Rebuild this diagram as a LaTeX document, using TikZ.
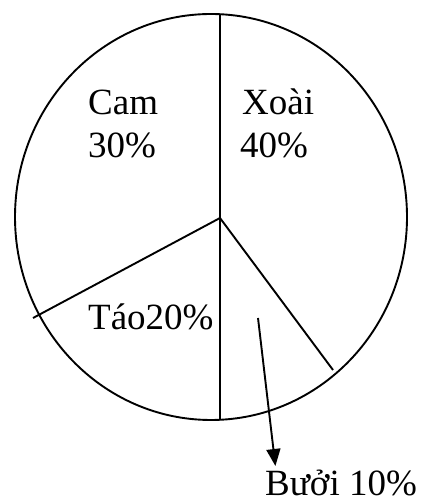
\documentclass[tikz,border=0pt]{standalone}
\usepackage{fontspec}
\setmainfont{Liberation Serif}
\usetikzlibrary{arrows.meta}
\begin{document}
\begin{tikzpicture}[x=1pt,y=1pt,
  line/.style={line width=1.9pt,black},
  lbl/.style={anchor=base west,inner sep=0pt,font=\fontsize{37}{43}\selectfont}]
\useasboundingbox (0,0) rectangle (422,503);
% geometry (y = 503 - pixel row)
\coordinate (C) at (211,286);
\coordinate (O) at (220,285);
\coordinate (top) at (220,489);
\coordinate (bot) at (220,83);
\coordinate (left) at (33,185);
\coordinate (right) at (333,133);
\coordinate (astart) at (258,185);
\coordinate (atip) at (275.4,37);
\draw[line] (C) ellipse [x radius=196, y radius=203];
\draw[line] (top) -- (bot);
\draw[line] (O) -- (left);
\draw[line] (O) -- (right);
\draw[line,-{Triangle[length=17pt,width=14pt]}] (astart) -- (atip);
\node[lbl] (cam) at (88,388) {Cam};
\node[lbl] (cam30) at (88,345) {30\%};
\node[lbl] (xoai) at (242,388) {Xoài};
\node[lbl] (xoai40) at (240,345) {40\%};
\node[lbl] (tao) at (88,173) {Táo20\%};
\node[lbl] (buoi) at (265,7) {Bưởi 10\%};
\end{tikzpicture}
\end{document}
